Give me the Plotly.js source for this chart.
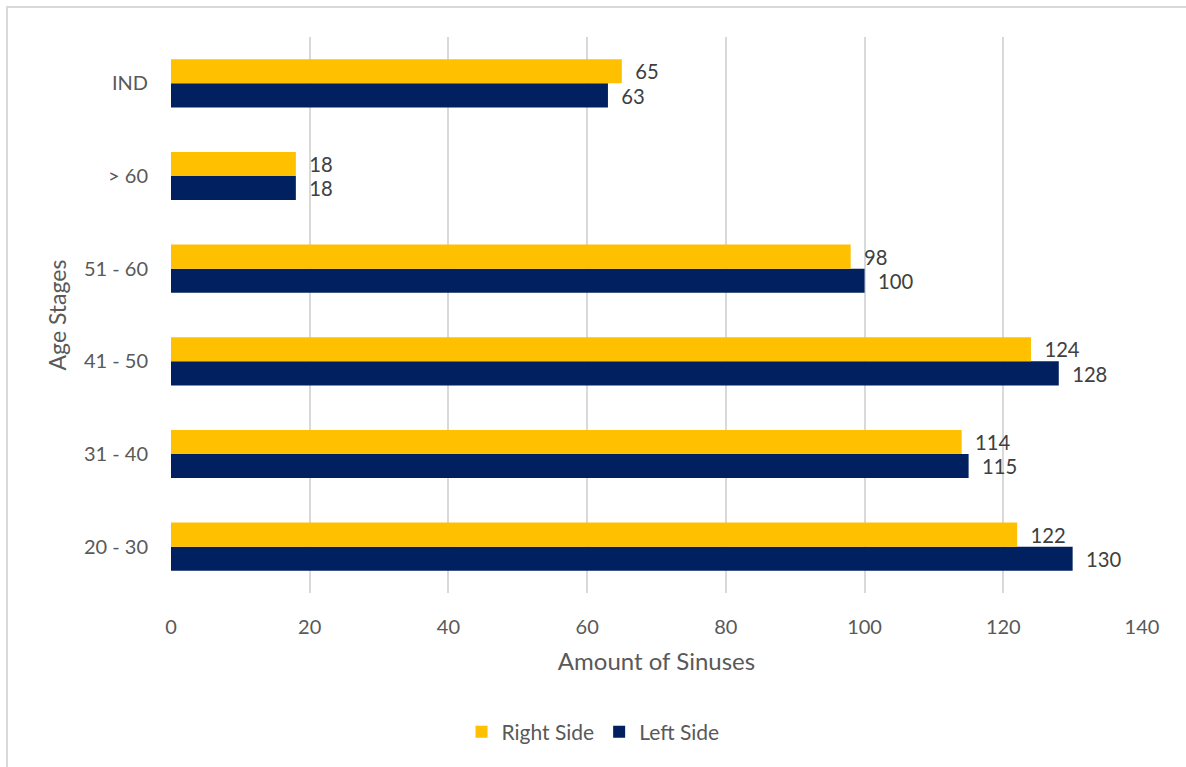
<!DOCTYPE html>
<html>
<head>
<meta charset="utf-8">
<script src="https://cdn.plot.ly/plotly-3.0.1.min.js"></script>
<style>
  html, body { margin: 0; padding: 0; background: #fff; }
  #chart { position: absolute; left: 0; top: 0; width: 1186px; height: 767px; }
  #frame { position: absolute; left: 6px; top: 6px; width: 1200px; height: 800px;
           border-top: 2px solid #D9D9D9; border-left: 2px solid #D9D9D9; pointer-events: none; }
</style>
</head>
<body>
<div id="chart"></div>
<div id="frame"></div>
<script>
const categories = ['20 - 30', '31 - 40', '41 - 50', '51 - 60', '> 60', 'IND'];
const rightSide = [122, 114, 124, 98, 18, 65];
const leftSide = [130, 115, 128, 100, 18, 63];
const xTicks = [0, 20, 40, 60, 80, 100, 120, 140];

const FONT = 'Lato, "Open Sans", sans-serif';
const GREY = '#595959';
const PAD = '\u00A0\u00A0';

const traces = [
  {
    type: 'bar', orientation: 'h', name: 'Left Side',
    y: categories, x: leftSide,
    marker: { color: '#002060', line: { width: 0 } },
    text: leftSide.map(v => PAD + v), textposition: 'outside',
    textfont: { family: FONT, size: 21, color: '#404040' },
    cliponaxis: false, hoverinfo: 'x+y+name'
  },
  {
    type: 'bar', orientation: 'h', name: 'Right Side',
    y: categories, x: rightSide,
    marker: { color: '#FFC000', line: { width: 0 } },
    text: rightSide.map(v => PAD + v), textposition: 'outside',
    textfont: { family: FONT, size: 21, color: '#404040' },
    cliponaxis: false, hoverinfo: 'x+y+name'
  }
];

const layout = {
  width: 1186, height: 767,
  paper_bgcolor: '#fff', plot_bgcolor: '#fff',
  font: { family: FONT, color: GREY, size: 20 },
  margin: { l: 171, r: 44, t: 37, b: 174 },
  barmode: 'group', bargap: 0.48, bargroupgap: 0,
  xaxis: {
    range: [0, 140], tickvals: xTicks, ticktext: xTicks.map(String),
    showgrid: true, gridcolor: '#D9D9D9', gridwidth: 2,
    zeroline: false, showline: false, ticks: '',
    ticklabelstandoff: 20,
    tickfont: { family: FONT, size: 20, color: GREY },
    title: { text: 'Amount of Sinuses', font: { family: FONT, size: 24, color: GREY }, standoff: 16 }
  },
  yaxis: {
    type: 'category', categoryorder: 'array', categoryarray: categories,
    showgrid: false, zeroline: false, showline: false, ticks: '',
    ticklabelstandoff: 22,
    tickfont: { family: FONT, size: 20, color: GREY },
    title: { text: 'Age Stages', font: { family: FONT, size: 23, color: GREY }, standoff: 10 }
  },
  showlegend: true,
  legend: {
    orientation: 'h', traceorder: 'reversed',
    x: 0.5, xanchor: 'center', xref: 'container',
    yref: 'container', yanchor: 'middle',
    font: { family: FONT, size: 21, color: GREY },
    itemwidth: 30
  }
};
layout.legend.y = 1 - 732 / 767;

Plotly.newPlot('chart', traces, layout, { displayModeBar: false, staticPlot: true });
</script>
</body>
</html>
